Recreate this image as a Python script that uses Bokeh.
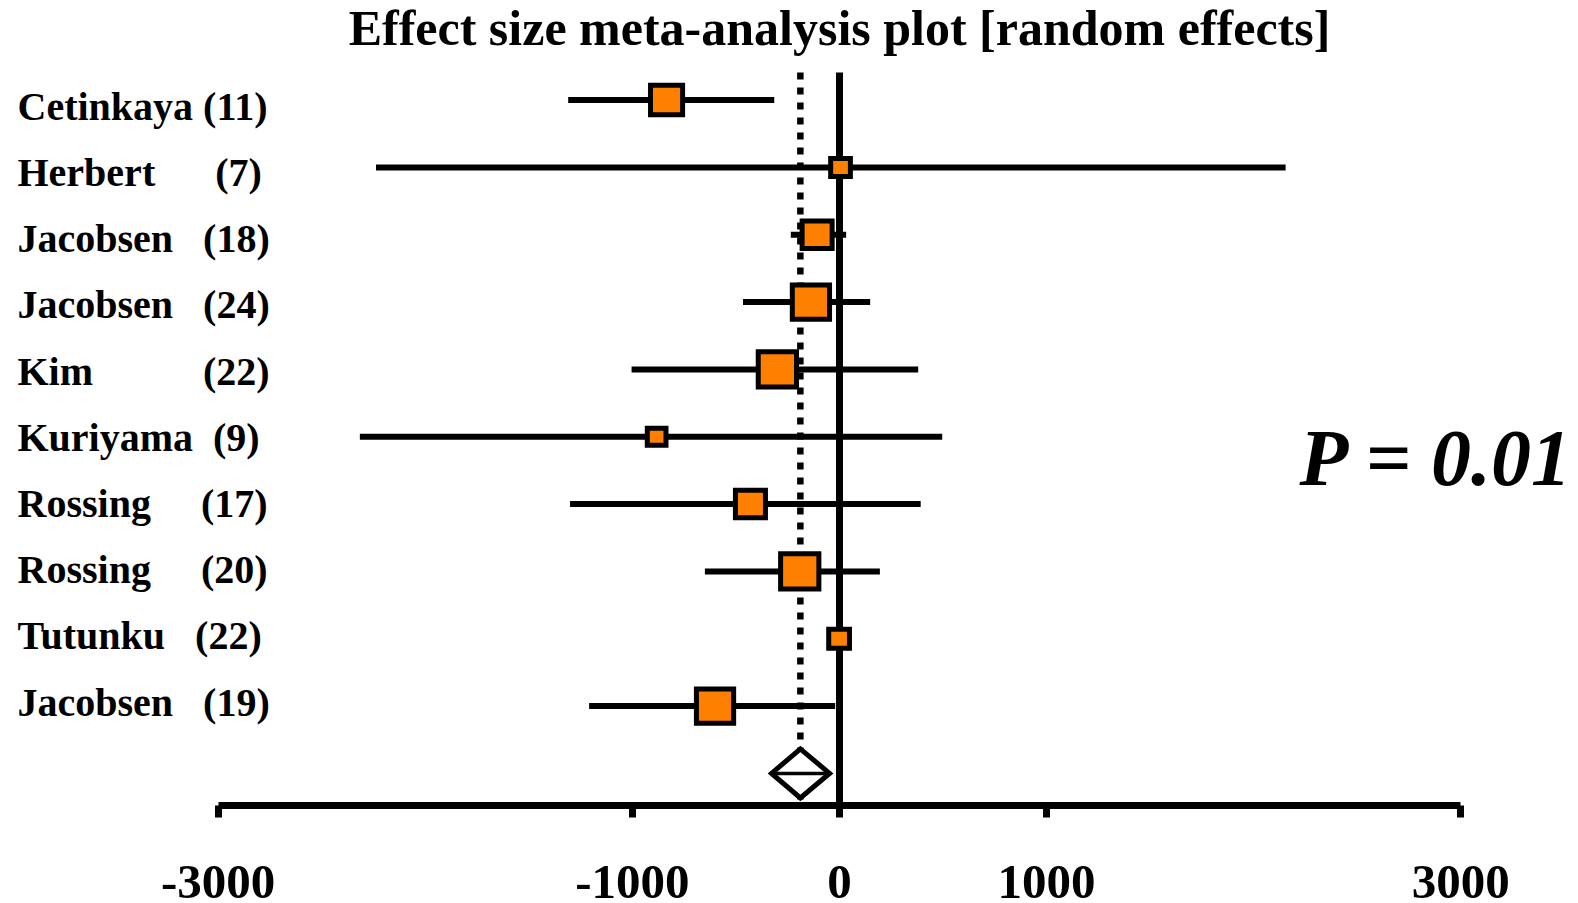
from bokeh.plotting import figure
from bokeh.models import Range1d, FixedTicker, ColumnDataSource, Label
from bokeh.core.properties import value
from bokeh.embed import file_html
from bokeh.resources import INLINE

NB = "\u00a0"

# ---------------- data ----------------
title_text = "Effect size meta-analysis plot [random effects]"
study_labels = [
    "Cetinkaya (11)",
    "Herbert" + NB * 6 + "(7)",
    "Jacobsen" + NB * 3 + "(18)",
    "Jacobsen" + NB * 3 + "(24)",
    "Kim" + NB * 11 + "(22)",
    "Kuriyama" + NB * 2 + "(9)",
    "Rossing" + NB * 5 + "(17)",
    "Rossing" + NB * 5 + "(20)",
    "Tutunku" + NB * 3 + "(22)",
    "Jacobsen" + NB * 3 + "(19)",
]
effect = [-835, 5, -108, -138, -300, -883, -430, -192, -2, -601]
ci_low = [-1310, -2238, -235, -466, -1004, -2316, -1301, -650, -30, -1209]
ci_high = [-315, 2154, 32, 148, 380, 496, 392, 195, 25, -21]
weights = [36, 24, 34, 41, 42, 23, 34, 42, 25, 41]   # relative study weights (box size)
pooled_effect = -189
pooled_low = -328
pooled_high = -48
p_value_text = "P = 0.01"
tick_values = [-3000, -1000, 0, 1000, 3000]
tick_labels = ["-3000", "-1000", "0", "1000", "3000"]

# ---------------- layout / style ----------------
W, FRAME_H = 1578, 805
PX0, SLOPE = 839.0, 0.2071          # pixel of x=0, pixels per unit
ROW0, ROWSTEP = 99.6, 67.33         # pixel of first row, pixels per row
x_start = -PX0 / SLOPE
x_end = (W - PX0) / SLOPE
y_bottom = (FRAME_H - ROW0) / ROWSTEP
y_top = -ROW0 / ROWSTEP
line_top = (72 - ROW0) / ROWSTEP
FONT = "Liberation Serif"
ORANGE = "#FF7F00"
BOX_PX = 1.03

rows = list(range(len(effect)))
pooled_row = len(effect)

p = figure(frame_width=W, frame_height=FRAME_H, min_border=0,
           x_range=Range1d(x_start, x_end), y_range=Range1d(y_bottom, y_top),
           y_axis_location=None, toolbar_location=None, output_backend="svg")
p.grid.visible = False
p.outline_line_color = None
p.background_fill_color = "white"
p.border_fill_color = "white"

ax = p.xaxis[0]
ax.ticker = FixedTicker(ticks=tick_values)
ax.major_label_overrides = {v: t for v, t in zip(tick_values, tick_labels)}
ax.bounds = (tick_values[0], tick_values[-1])
ax.axis_line_width = 7
ax.axis_line_color = "black"
ax.major_tick_line_width = 7
ax.major_tick_line_color = "black"
ax.major_tick_out = 12
ax.major_tick_in = 0
ax.minor_tick_out = 0
ax.minor_tick_in = 0
ax.major_label_standoff = 48
ax.major_label_text_font = FONT
ax.major_label_text_font_style = "bold"
ax.major_label_text_font_size = "49px"
ax.major_label_text_color = "black"

# zero line and pooled (dotted) line
p.segment(x0=[0], y0=[line_top], x1=[0], y1=[y_bottom], line_color="black", line_width=7)
p.segment(x0=[pooled_effect], y0=[line_top], x1=[pooled_effect], y1=[y_bottom],
          line_color="black", line_width=6.5, line_dash="7 8")

src = ColumnDataSource(dict(
    y=rows, est=effect, lo=ci_low, hi=ci_high,
    bw=[w * BOX_PX - 5 for w in weights],
    bh=[w * BOX_PX * 0.93 - 5 for w in weights],
    label=study_labels,
    lx=[x_start] * len(rows),
    loff=[6 - 1.1 * i for i in rows],
))

p.segment(x0="lo", y0="y", x1="hi", y1="y", source=src, line_color="black", line_width=6)
p.rect(x="est", y="y", width="bw", height="bh", width_units="screen", height_units="screen",
       source=src, fill_color=ORANGE, line_color="black", line_width=5, line_join="miter")

# pooled diamond
h = 24.5 / ROWSTEP
p.patch(x=[pooled_low, pooled_effect, pooled_high, pooled_effect],
        y=[pooled_row, pooled_row - h, pooled_row, pooled_row + h],
        fill_color="white", line_color="black", line_width=5, line_join="miter")
p.segment(x0=[pooled_low], y0=[pooled_row], x1=[pooled_high], y1=[pooled_row],
          line_color="black", line_width=3.5)

# study labels
p.text(x="lx", y="y", text="label", source=src, x_offset=17, y_offset="loff",
       text_align="left", text_baseline="alphabetic",
       text_font=value(FONT), text_font_style="bold", text_font_size="40px", text_color="black")

# title
p.add_layout(Label(x=0, y=(27.3 - ROW0) / ROWSTEP, text=title_text,
                   text_align="center", text_baseline="alphabetic",
                   text_font=FONT, text_font_style="bold", text_font_size="50px",
                   text_color="black"))

# P value
p.add_layout(Label(x=(1299 - PX0) / SLOPE, y=(457 - ROW0) / ROWSTEP, text=p_value_text,
                   text_align="left", text_baseline="alphabetic",
                   text_font=FONT, text_font_style="bold italic", text_font_size="80px",
                   text_color="black"))

html = file_html(p, INLINE)
html = html.replace("<head>", "<head><style>html,body{margin:0;padding:0;overflow:hidden}</style>", 1)
open("out.html", "w").write(html)
